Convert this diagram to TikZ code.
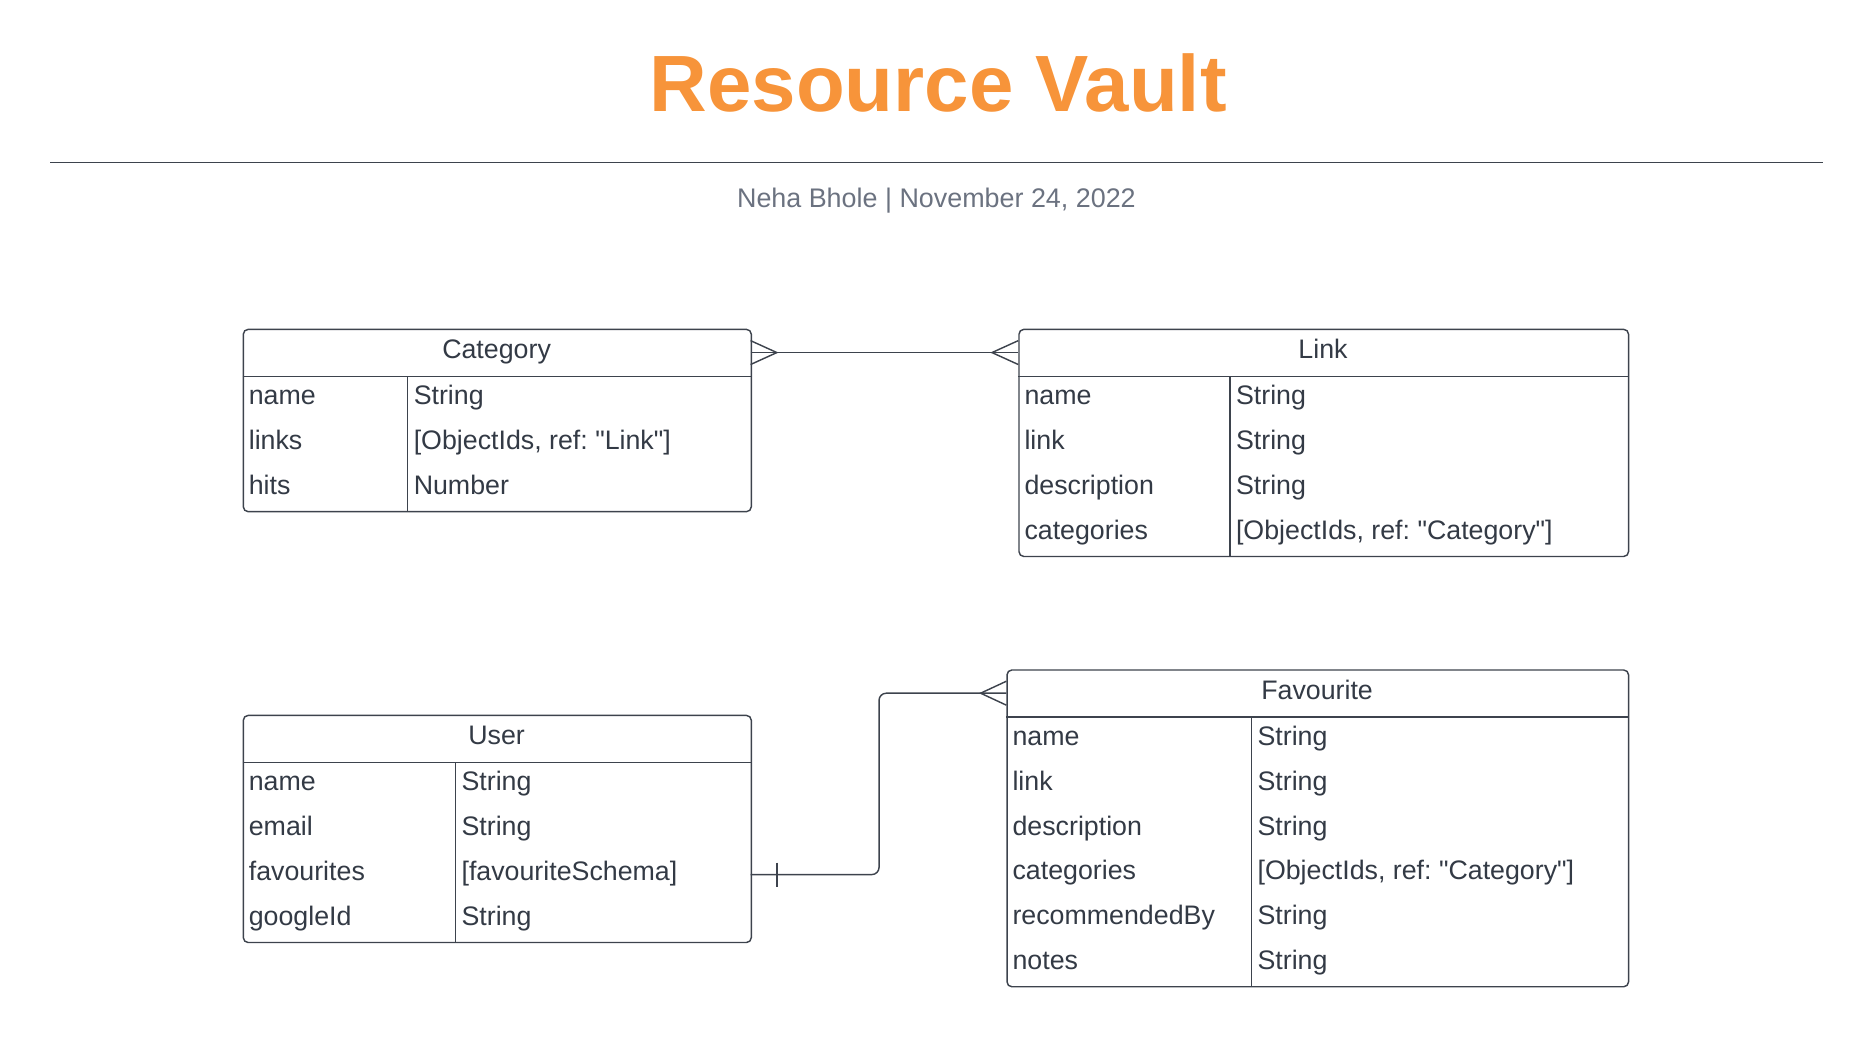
\documentclass[tikz,border=0pt]{standalone}
\usepackage{fontspec}
\setmainfont{Liberation Sans}
\usetikzlibrary{positioning}
\definecolor{lineclr}{HTML}{3D434D}
\definecolor{txtclr}{HTML}{333A45}
\definecolor{vault}{HTML}{F7943A}
\definecolor{subclr}{HTML}{6B7280}
\frenchspacing

\tikzset{tbl/.style={ draw = lineclr, line width=1.2pt, rounded corners=4pt, rectangle, anchor=north west, inner sep=0pt}}
\tikzset{fld/.style={ anchor=base west, inner sep=0pt, text=txtclr, font=\fontsize{22.4}{26}\selectfont}}
\tikzset{hdr/.style={ anchor=base, inner sep=0pt, text=txtclr, font=\fontsize{22.4}{26}\selectfont}}
\tikzset{rel/.style={ draw = lineclr, line width=1.2pt}}

\begin{document}
\begin{tikzpicture}[x=1pt, y=-1pt]
\useasboundingbox (0,0) rectangle (1568,886);
% title
\node[anchor=base, inner sep=0pt, text=vault, font=\fontsize{66.8}{70}\selectfont\bfseries] (title) at (785,93.5) {Resource Vault};
\coordinate (ruleL) at (42,136);
\coordinate (ruleR) at (1525,136);
\draw[lineclr, line width=1.5pt] (ruleL) -- (ruleR);
\node[anchor=base, inner sep=0pt, text=subclr, font=\fontsize{22.5}{26}\selectfont] (sub) at (783.5,173.5) {Neha Bhole | November 24, 2022};

% Category
\node[tbl, minimum width=425pt, minimum height=152.5pt] (cat) at (203,275) {};
\draw[rel] (203,315) -- (628,315);
\draw[rel] (341,315) -- (341,427.5);
\node[hdr] (cathd) at (415.5,300) {Category};
\node[fld] (catname) at (208,338.75) {name};
\node[fld] (catlinks) at (208,376.25) {links};
\node[fld] (cathits) at (208,413.75) {hits};
\node[fld] (catnamet) at (346,338.75) {String};
\node[fld] (catlinkst) at (346,376.25) {[ObjectIds, ref: \textquotedbl Link\textquotedbl]};
\node[fld] (cathitst) at (346,413.75) {Number};

% Link
\node[tbl, minimum width=510pt, minimum height=190pt] (lnk) at (852,275) {};
\draw[rel] (852,315) -- (1362,315);
\draw[rel] (1029,315) -- (1029,465);
\node[hdr] (lnkhd) at (1107,300) {Link};
\node[fld] (lnkname) at (857,338.75) {name};
\node[fld] (lnklink) at (857,376.25) {link};
\node[fld] (lnkdesc) at (857,413.75) {description};
\node[fld] (lnkcats) at (857,451.25) {categories};
\node[fld] (lnknamet) at (1034,338.75) {String};
\node[fld] (lnklinkt) at (1034,376.25) {String};
\node[fld] (lnkdesct) at (1034,413.75) {String};
\node[fld] (lnkcatst) at (1034,451.25) {[ObjectIds, ref: \textquotedbl Category\textquotedbl]};

% User
\node[tbl, minimum width=425pt, minimum height=190pt] (usr) at (203,598) {};
\draw[rel] (203,638) -- (628,638);
\draw[rel] (381,638) -- (381,788);
\node[hdr] (usrhd) at (415.5,623) {User};
\node[fld] (usrname) at (208,661.75) {name};
\node[fld] (usrmail) at (208,699.25) {email};
\node[fld] (usrfavs) at (208,736.75) {favourites};
\node[fld] (usrgid) at (208,774.25) {googleId};
\node[fld] (usrnamet) at (386,661.75) {String};
\node[fld] (usrmailt) at (386,699.25) {String};
\node[fld] (usrfavst) at (386,736.75) {[favouriteSchema]};
\node[fld] (usrgidt) at (386,774.25) {String};

% Favourite
\node[tbl, minimum width=520pt, minimum height=265pt] (fav) at (842,560) {};
\draw[rel] (842,600) -- (1362,600);
\draw[rel] (1047,600) -- (1047,825);
\node[hdr] (favhd) at (1102,585) {Favourite};
\node[fld] (favname) at (847,623.75) {name};
\node[fld] (favlink) at (847,661.25) {link};
\node[fld] (favdesc) at (847,698.75) {description};
\node[fld] (favcats) at (847,736.25) {categories};
\node[fld] (favrec) at (847,773.75) {recommendedBy};
\node[fld] (favnote) at (847,811.25) {notes};
\node[fld] (favnamet) at (1052,623.75) {String};
\node[fld] (favlinkt) at (1052,661.25) {String};
\node[fld] (favdesct) at (1052,698.75) {String};
\node[fld] (favcatst) at (1052,736.25) {[ObjectIds, ref: \textquotedbl Category\textquotedbl]};
\node[fld] (favrect) at (1052,773.75) {String};
\node[fld] (favnotet) at (1052,811.25) {String};

% many to many
\coordinate (catR) at (628,295);
\coordinate (lnkL) at (852,295);
\draw[rel] (catR) -- (lnkL);
\draw[rel] (628,285) -- (650,295) -- (628,305);
\draw[rel] (852,285) -- (830,295) -- (852,305);

% one to many
\coordinate (usrR) at (628,731.75);
\coordinate (favL) at (842,580);
\draw[rel, rounded corners=6pt] (usrR) -- (735.5,731.75) -- (735.5,580) -- (favL);
\draw[rel] (650,721.75) -- (650,741.75);
\draw[rel] (842,570) -- (820.5,580) -- (842,590);
\end{tikzpicture}
\end{document}
